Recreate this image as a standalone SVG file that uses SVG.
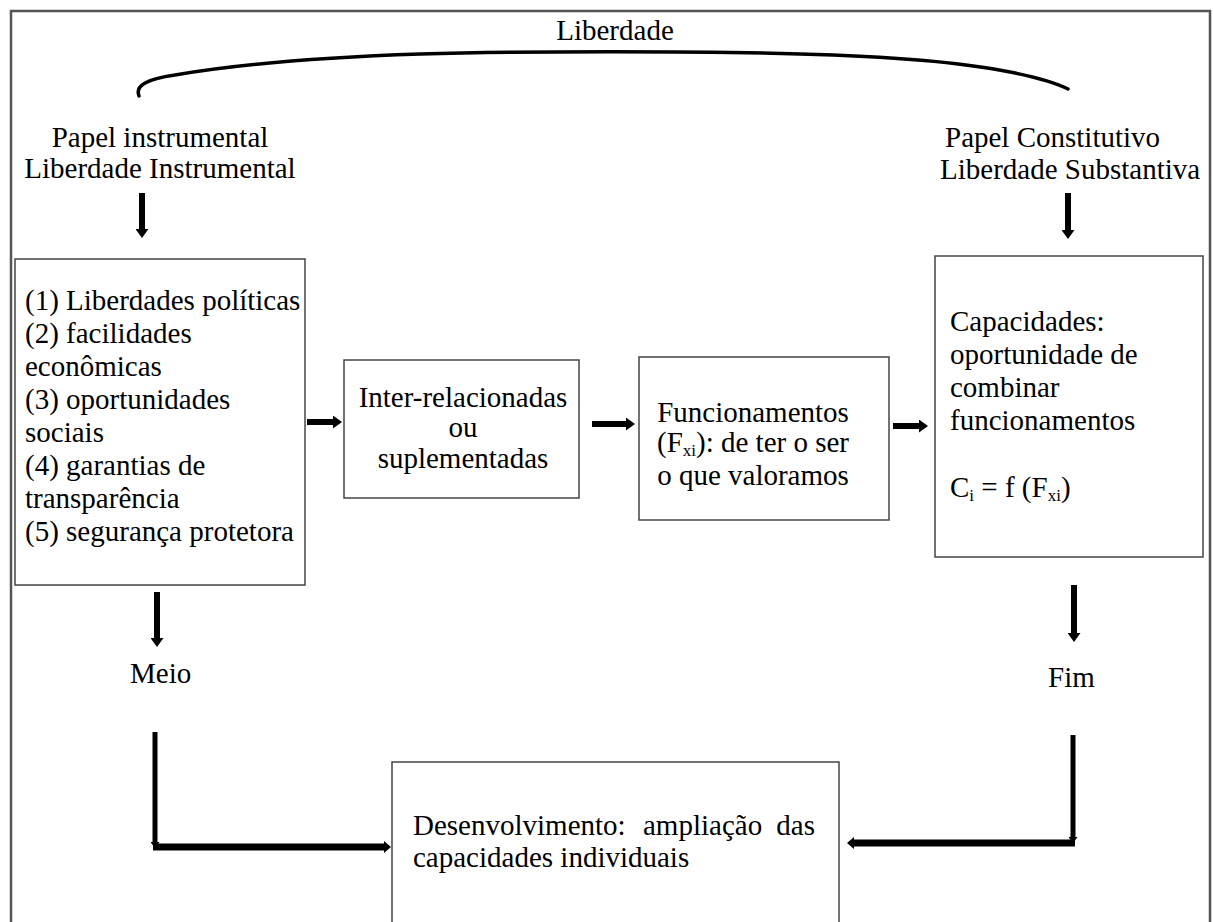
<svg xmlns="http://www.w3.org/2000/svg" width="1213" height="922" viewBox="0 0 1213 922">
<style>
  text { font-family: "Liberation Serif", "Times New Roman", serif; font-size: 29px; fill: #000; }
  .sub { font-size: 17px; }
  .box { fill: #fff; stroke: #444; stroke-width: 1.5; }
  .frame { fill: none; stroke: #555; stroke-width: 2.5; }
  .arr { stroke: #000; stroke-width: 6; fill: none; marker-end: url(#ah); }
  .lv { stroke: #000; stroke-width: 5; fill: none; marker-end: url(#ahs); }
  .lh { stroke: #000; stroke-width: 7; fill: none; marker-end: url(#ahh); }
  .arc { stroke: #000; stroke-width: 3.5; fill: none; stroke-linecap: round; }
  .mid { text-anchor: middle; }
</style>
<defs>
  <marker id="ah" viewBox="0 0 9 13" refX="0" refY="6.5" markerWidth="9" markerHeight="13" markerUnits="userSpaceOnUse" orient="auto">
    <path d="M0,0 L9,6.5 L0,13 z" fill="#000"/>
  </marker>
  <marker id="ahs" viewBox="0 0 6 9" refX="0" refY="4.5" markerWidth="6" markerHeight="9" markerUnits="userSpaceOnUse" orient="auto">
    <path d="M0,0 L6,4.5 L0,9 z" fill="#000"/>
  </marker>
  <marker id="ahh" viewBox="0 0 7 12" refX="0" refY="6" markerWidth="7" markerHeight="12" markerUnits="userSpaceOnUse" orient="auto">
    <path d="M0,0 L7,6 L0,12 z" fill="#000"/>
  </marker>
</defs>
<rect width="1213" height="922" fill="#fff"/>
<path class="frame" d="M11,922 V11 H1210 V922"/>

<g id="liberdade">
  <text class="mid" x="615" y="40">Liberdade</text>
  <path class="arc" d="M139,96 C135,86 146,79 175,75 C240,64 330,57 420,54 C520,51 700,51 800,54 C880,56 960,62 1010,72 C1040,78 1058,84 1068,89"/>
</g>

<g id="papel-instrumental">
  <text class="mid" x="160" y="147">Papel instrumental</text>
  <text class="mid" x="160" y="178">Liberdade Instrumental</text>
</g>

<g id="papel-constitutivo">
  <text x="945" y="147">Papel Constitutivo</text>
  <text x="940" y="179">Liberdade Substantiva</text>
</g>

<g id="liberdades-instrumentais">
  <rect class="box" x="15" y="259" width="290" height="326"/>
  <text x="25" y="310">(1) Liberdades políticas</text>
  <text x="25" y="343">(2) facilidades</text>
  <text x="25" y="376">econômicas</text>
  <text x="25" y="409">(3) oportunidades</text>
  <text x="25" y="442">sociais</text>
  <text x="25" y="475">(4) garantias de</text>
  <text x="25" y="508">transparência</text>
  <text x="25" y="541">(5) segurança protetora</text>
</g>

<g id="inter-relacionadas">
  <rect class="box" x="344" y="360" width="235" height="138"/>
  <text class="mid" x="463" y="407">Inter-relacionadas</text>
  <text class="mid" x="463" y="437">ou</text>
  <text class="mid" x="463" y="468">suplementadas</text>
</g>

<g id="funcionamentos">
  <rect class="box" x="639" y="357" width="250" height="163"/>
  <text class="mid" x="753" y="422">Funcionamentos</text>
  <text class="mid" x="753" y="452">(F<tspan class="sub" dy="4">xi</tspan><tspan dy="-4">): de ter o ser</tspan></text>
  <text class="mid" x="753" y="485">o que valoramos</text>
</g>

<g id="capacidades">
  <rect class="box" x="935" y="256" width="268" height="301"/>
  <text x="950" y="331">Capacidades:</text>
  <text x="950" y="364">oportunidade de</text>
  <text x="950" y="397">combinar</text>
  <text x="950" y="430">funcionamentos</text>
  <text x="950" y="497">C<tspan class="sub" dy="4">i</tspan><tspan dy="-4"> = f (F</tspan><tspan class="sub" dy="4">xi</tspan><tspan dy="-4">)</tspan></text>
</g>

<g id="meio">
  <text x="130" y="683">Meio</text>
</g>

<g id="fim">
  <text x="1048" y="687">Fim</text>
</g>

<g id="desenvolvimento">
  <rect class="box" x="392" y="762" width="447" height="175"/>
  <text x="413" y="835">Desenvolvimento:</text>
  <text x="643" y="835">ampliação</text>
  <text x="815" y="835" text-anchor="end">das</text>
  <text x="413" y="867">capacidades individuais</text>
</g>

<g id="connectors">
  <line class="arr" x1="142" y1="193" x2="142" y2="229"/>
  <line class="arr" x1="1068" y1="193" x2="1068" y2="230"/>
  <line class="arr" x1="307" y1="422" x2="333" y2="422"/>
  <line class="arr" x1="592" y1="424" x2="626" y2="424"/>
  <line class="arr" x1="893" y1="426" x2="919" y2="426"/>
  <line class="arr" x1="157" y1="592" x2="157" y2="638"/>
  <line class="arr" x1="1074" y1="585" x2="1074" y2="633"/>
  <line class="lv" x1="155" y1="732" x2="155" y2="842"/>
  <line class="lh" x1="153" y1="847" x2="384" y2="847"/>
  <line class="lv" x1="1073" y1="735" x2="1073" y2="837"/>
  <line class="lh" x1="1075" y1="843" x2="854" y2="843"/>
</g>
</svg>
